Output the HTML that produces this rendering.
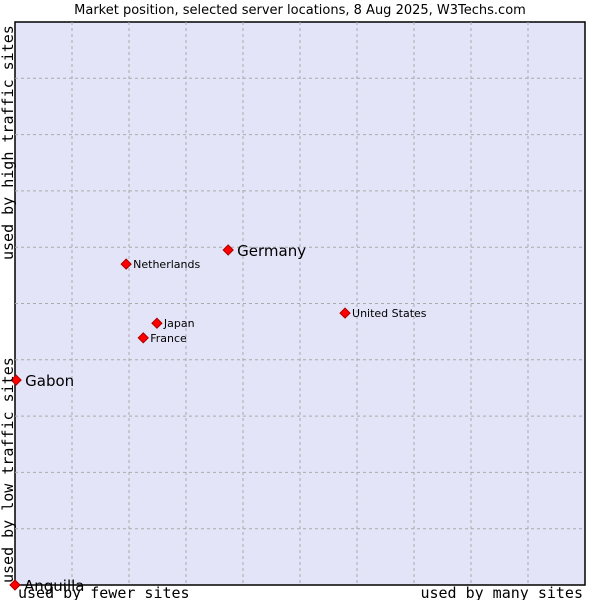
<!DOCTYPE html>
<html><head><meta charset="utf-8"><style>body{margin:0;background:#fff}svg{display:block}</style></head>
<body>
<svg id="c" width="600" height="600" font-family="DejaVu Sans, sans-serif">
<text x="300" y="14" text-anchor="middle" font-size="13" fill="#000">Market position, selected server locations, 8 Aug 2025, W3Techs.com</text>
<rect x="15" y="22" width="570" height="563" fill="#e3e4f8" stroke="#000" stroke-width="1.5"/>
<g id="grid"></g>
<g id="pts"></g>
<text x="18" y="598" font-family="DejaVu Sans Mono, Liberation Mono, monospace" font-size="15">used by fewer sites</text>
<text x="583" y="598" text-anchor="end" font-family="DejaVu Sans Mono, Liberation Mono, monospace" font-size="15">used by many sites</text>
<text transform="translate(13,583) rotate(-90)" font-family="DejaVu Sans Mono, Liberation Mono, monospace" font-size="15">used by low traffic sites</text>
<text transform="translate(13,260) rotate(-90)" font-family="DejaVu Sans Mono, Liberation Mono, monospace" font-size="15">used by high traffic sites</text>
</svg>
<script>
const names=["Germany","Netherlands","Japan","France","United States","Gabon","Anguilla"];
const xVals=[37.4,19.5,24.9,22.5,57.9,0.2,0];
const yVals=[59.5,57.0,46.5,43.9,48.3,36.4,0];
const big=[true,false,false,false,false,true,true];
const NS="http://www.w3.org/2000/svg";
const L=15,R=585,T=22,B=585;
const sx=v=>L+v/100*(R-L), sy=v=>B-v/100*(B-T);
const g=document.getElementById('grid');
for(let i=1;i<10;i++){
 let a=document.createElementNS(NS,'line');
 a.setAttribute('x1',sx(i*10));a.setAttribute('x2',sx(i*10));a.setAttribute('y1',T);a.setAttribute('y2',B);
 a.setAttribute('stroke','#aaa');a.setAttribute('stroke-dasharray','3,3');
 
 
 g.appendChild(a);
 let b=document.createElementNS(NS,'line');
 b.setAttribute('y1',sy(i*10));b.setAttribute('y2',sy(i*10));b.setAttribute('x1',L);b.setAttribute('x2',R);
 b.setAttribute('stroke','#aaa');b.setAttribute('stroke-dasharray','3,3');
 
 
 g.appendChild(b);
}
const p=document.getElementById('pts');
names.forEach((n,i)=>{
 const x=sx(xVals[i]),y=sy(yVals[i]);
 const d=document.createElementNS(NS,'polygon');
 d.setAttribute('points',`${x},${y-5} ${x+5},${y} ${x},${y+5} ${x-5},${y}`);
 d.setAttribute('fill','#f00');d.setAttribute('stroke','#a00');d.setAttribute('stroke-width','1');
 
 
 p.appendChild(d);
 const t=document.createElementNS(NS,'text');
 t.setAttribute('x',x+(big[i]?9:7));t.setAttribute('y',y+(big[i]?6:4));
 t.setAttribute('font-size',big[i]?15:11);
 t.textContent=n;
 
 
 p.appendChild(t);
});
</script>
</body></html>
